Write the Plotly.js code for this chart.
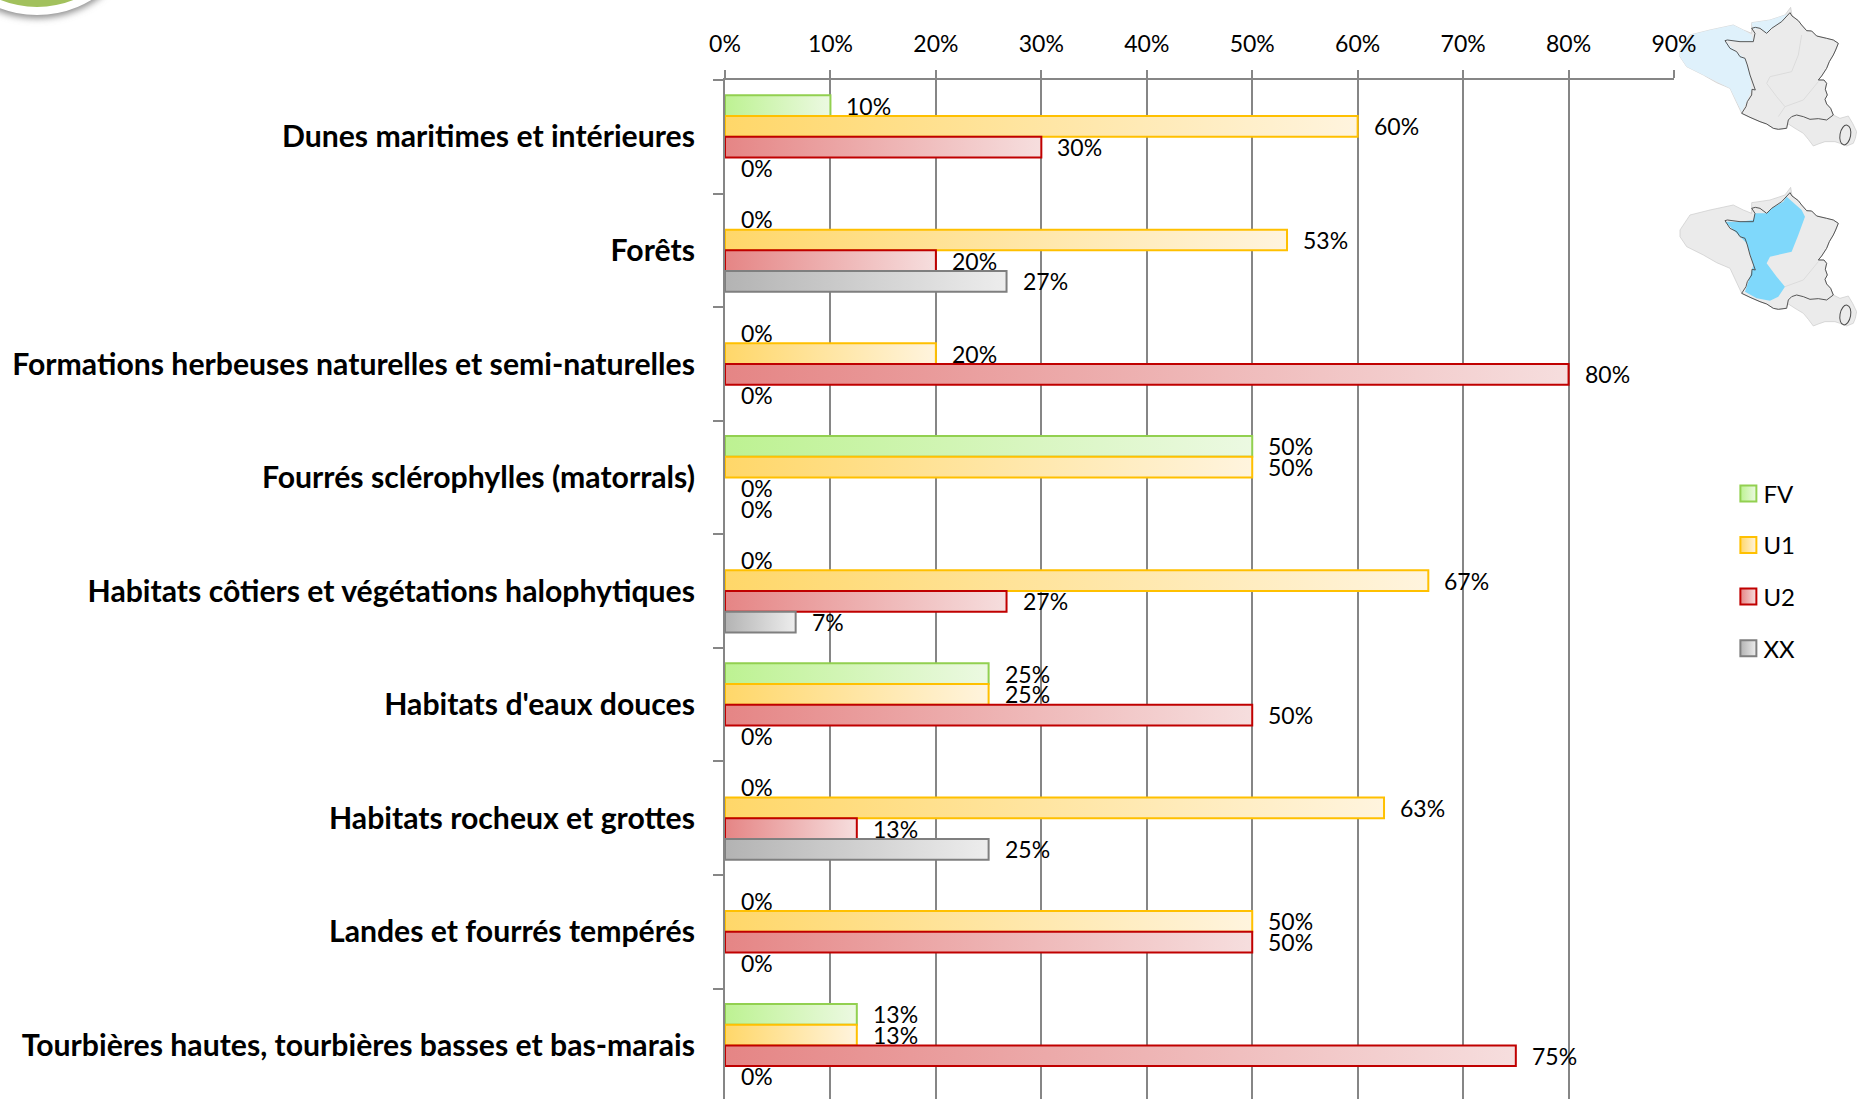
<!DOCTYPE html>
<html>
<head>
<meta charset="utf-8">
<script src="https://cdn.plot.ly/plotly-3.0.1.min.js"></script>
<style>
html,body{margin:0;padding:0;width:1857px;height:1099px;overflow:hidden;background:#fff}
#deco{position:absolute;left:0;top:0;z-index:0}
#chart{position:absolute;left:0;top:0;width:1857px;height:1099px;z-index:1}
svg text{font-variant-ligatures:none}
</style>
</head>
<body>
<svg id="deco" width="1857" height="1099" xmlns="http://www.w3.org/2000/svg">
  <defs>
    <filter id="soft" x="-10%" y="-10%" width="120%" height="120%"><feGaussianBlur stdDeviation="1.2"/></filter>
    <filter id="shadow" x="-20%" y="-20%" width="140%" height="140%"><feGaussianBlur stdDeviation="3.5"/></filter>
    <g id="map-base">
      <path fill="#ebebeb" stroke="#c8c8c8" stroke-width="2" d="M362,22 L366,46 385,62 395,75 410,92 425,93 440,108 470,115 490,120 505,130 497,150 490,165 478,185 470,205 455,228 445,240 462,240 470,250 466,268 472,285 465,298 470,312 482,325 490,345 510,355 535,348 548,370 560,395 556,415 550,430 530,438 510,430 495,425 465,425 445,432 430,438 415,418 400,400 375,385 355,372 345,385 325,388 310,385 290,372 270,365 240,352 215,340 180,265 140,248 100,225 50,200 30,170 30,150 60,105 120,90 190,75 220,90 245,100 245,68 300,60 345,45 Z"/>
    </g>
    <g id="map-lines" fill="none" stroke="#4a4a4a" stroke-width="2.8" stroke-linejoin="round">
      <path d="M360,38 L366,48 385,62 395,75 410,92 425,93 440,108 470,115 490,120 505,130 497,150 490,165 478,185 470,205 455,228 445,240 462,240 470,250 466,268 472,285 465,298 470,312 482,325 490,345 470,360 445,356 420,358 400,350 380,345 365,350 355,360 350,385 325,388 310,385 290,372 270,365 240,352 215,340 228,320 232,305 245,285 246,268 256,270 240,225 232,195 225,175 210,170 200,155 180,145 165,122 172,120 210,125 250,125 255,100 245,85 256,82 270,85 290,100 305,85 335,65 360,38"/>
      <ellipse cx="526" cy="405" rx="16" ry="30" transform="rotate(10 526 405)" stroke-width="3"/>
    </g>
  </defs>
  <g transform="translate(0,-91)"><g filter="url(#shadow)"><circle cx="37" cy="3" r="106" fill="#8a8a8a"/></g>
    <circle cx="37" cy="0" r="106" fill="#ffffff"/><circle cx="37" cy="0" r="98" fill="#a2c15d"/></g>
  <g transform="translate(1670,0) scale(0.3333)" filter="url(#soft)">
    <use href="#map-base"/>
    <path fill="#dff1fb" d="M30,150 L60,105 120,90 190,75 220,90 245,105 250,125 210,125 165,122 200,155 225,175 240,225 245,270 228,310 215,335 180,265 100,225 50,200 30,170 Z"/>
    <path fill="#dff1fb" d="M245,68 L300,60 345,45 355,42 335,65 305,85 290,100 270,85 250,88 Z"/>
    <path fill="none" stroke="#dcdcdc" stroke-width="3" d="M395,105 L385,165 365,215 300,230 290,250 320,290 345,320 325,350 M345,320 L400,300 445,245"/>
    <use href="#map-lines"/>
  </g>
  <g transform="translate(1670,180) scale(0.3333)" filter="url(#soft)">
    <use href="#map-base"/>
    <path fill="#7fd8fb" d="M350,50 L395,90 405,110 385,165 365,215 300,230 290,250 320,290 345,320 325,350 300,362 260,355 225,335 240,290 250,255 230,190 200,160 165,125 210,125 250,120 255,100 290,100 305,85 340,65 Z"/>
    <path fill="none" stroke="#dcdcdc" stroke-width="3" d="M345,320 L400,300 445,245"/>
    <use href="#map-lines"/>
  </g>
</svg>
<div id="chart"></div>
<script>
var categories = [
  "Dunes maritimes et intérieures",
  "Forêts",
  "Formations herbeuses naturelles et semi-naturelles",
  "Fourrés sclérophylles (matorrals)",
  "Habitats côtiers et végétations halophytiques",
  "Habitats d'eaux douces",
  "Habitats rocheux et grottes",
  "Landes et fourrés tempérés",
  "Tourbières hautes, tourbières basses et bas-marais"
];
var seriesNames = ["FV", "U1", "U2", "XX"];
var FV = [10, 0, 0, 50, 0, 25, 0, 0, 12.5];
var U1 = [60, 53.3, 20, 50, 66.7, 25, 62.5, 50, 12.5];
var U2 = [30, 20, 80, 0, 26.7, 50, 12.5, 50, 75];
var XX = [0, 26.7, null, 0, 6.7, 0, 25, 0, 0];
var FVlabels = ["10%","0%","0%","50%","0%","25%","0%","0%","13%"];
var U1labels = ["60%","53%","20%","50%","67%","25%","63%","50%","13%"];
var U2labels = ["30%","20%","80%","0%","27%","50%","13%","50%","75%"];
var XXlabels = ["0%","27%","0%","0%","7%","0%","25%","0%","0%"];
var borderColors = ["#92d050","#ffc000","#c00000","#7f7f7f"];
var gradientStart = ["#bdf292","#ffd769","#e58585","#b3b3b3"];
var gradientEnd = ["#ecf9e2","#fff4de","#f6dede","#ededed"];

var values = [FV, U1, U2, XX];
var labels = [FVlabels, U1labels, U2labels, XXlabels];
var axisColor = "#868686";
var font = "Lato, 'Open Sans', sans-serif";
var plotLeft = 725, plotRight = 1673.6, plotTop = 79.7, W = 1857, H = 1099;
var barGap = 0.27;

var traces = seriesNames.map(function (n, i) {
  return {
    type: "bar", orientation: "h", name: n, legendgroup: n,
    y: categories, x: values[i],
    marker: {
      color: gradientStart[i],
      line: { color: borderColors[i], width: values[i].map(function (v) { return v ? 2 : 0; }) }
    },
    hoverinfo: "x+y+name"
  };
});

var annotations = [];
labels.forEach(function (list, i) {
  list.forEach(function (t, c) {
    if (!t) return;
    annotations.push({
      x: values[i][c] || 0, xref: "x",
      y: c + (i - 1.5) * (1 - barGap) / 4, yref: "y",
      text: t, showarrow: false, xanchor: "left", yanchor: "middle", xshift: 14,
      font: { family: font, size: 23, color: "#000" }
    });
  });
});

var layout = {
  width: W, height: H,
  margin: { l: plotLeft, r: W - plotRight, t: plotTop, b: 0, pad: 0, autoexpand: false },
  paper_bgcolor: "rgba(0,0,0,0)", plot_bgcolor: "rgba(0,0,0,0)",
  barmode: "group", bargap: barGap, bargroupgap: 0,
  showlegend: true,
  legend: {
    x: 1.0573, y: 0.616, xanchor: "left", yanchor: "top",
    traceorder: "grouped", tracegroupgap: 17.4, bgcolor: "rgba(0,0,0,0)",
    font: { family: font, size: 24, color: "#000" }
  },
  xaxis: {
    side: "top", range: [0, 90], tick0: 0, dtick: 10, ticksuffix: "%",
    showgrid: true, gridcolor: axisColor, gridwidth: 2, zeroline: false,
    showline: true, linecolor: axisColor, linewidth: 2,
    ticks: "outside", ticklen: 8, tickwidth: 2, tickcolor: axisColor,
    ticklabelstandoff: 9, tickfont: { family: font, size: 23, color: "#000" }
  },
  yaxis: {
    type: "category", categoryorder: "array", categoryarray: categories,
    range: [8.472, -0.5], showgrid: false, zeroline: false,
    showline: true, linecolor: axisColor, linewidth: 2,
    ticks: "outside", tickson: "boundaries", ticklen: 10, tickwidth: 2, tickcolor: axisColor,
    ticklabelstandoff: 22, tickfont: { family: font, size: 30.2, color: "#000", weight: "bold" }
  },
  annotations: annotations
};

Plotly.newPlot("chart", traces, layout, { displayModeBar: false, responsive: false }).then(function (gd) {
  var svg = gd.querySelector(".main-svg");
  var NS = "http://www.w3.org/2000/svg";
  var defs = svg.querySelector("defs") || svg.insertBefore(document.createElementNS(NS, "defs"), svg.firstChild);
  seriesNames.forEach(function (n, i) {
    var g = document.createElementNS(NS, "linearGradient");
    g.setAttribute("id", "grad" + n);
    g.setAttribute("x1", "0"); g.setAttribute("x2", "1"); g.setAttribute("y1", "0"); g.setAttribute("y2", "0");
    [[0, gradientStart[i]], [1, gradientEnd[i]]].forEach(function (s) {
      var st = document.createElementNS(NS, "stop");
      st.setAttribute("offset", s[0]); st.setAttribute("stop-color", s[1]);
      g.appendChild(st);
    });
    defs.appendChild(g);
  });
  gd.querySelectorAll(".barlayer .trace.bars").forEach(function (tr, i) {
    tr.querySelectorAll(".point path").forEach(function (p) {
      p.style.fill = "url(#grad" + seriesNames[i] + ")";
    });
  });
  gd.querySelectorAll(".legend .traces").forEach(function (tr, i) {
    tr.querySelectorAll(".legendpoints path").forEach(function (p) {
      p.setAttribute("d", "M8,8H-8V-8H8Z");
      p.style.fill = "url(#grad" + seriesNames[i] + ")";
      p.style.stroke = borderColors[i];
      p.style.strokeWidth = "2px";
    });
    var t = tr.querySelector(".legendtext");
    if (t) t.setAttribute("x", "35");
  });
});
</script>
</body>
</html>
